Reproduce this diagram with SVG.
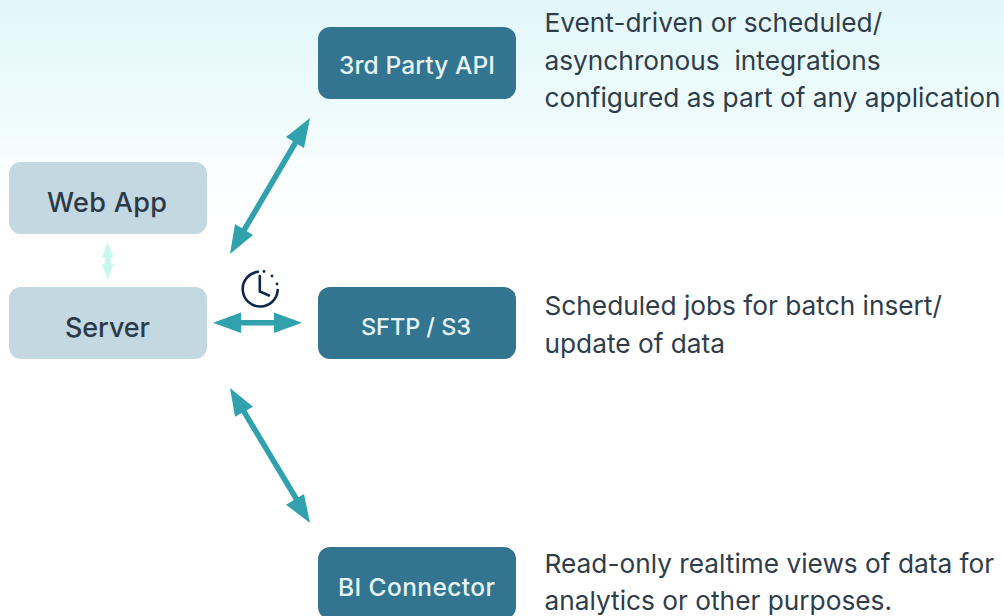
<svg xmlns="http://www.w3.org/2000/svg" width="1004" height="616" viewBox="0 0 1004 616">
<style>
.light{fill:#c4d8e1}
.dark{fill:#337590}
.lt{font-family:"Inter","Liberation Sans",sans-serif;font-size:27px;font-weight:500;fill:#2b3a48;text-anchor:middle}
.dt{font-family:"Inter","Liberation Sans",sans-serif;font-size:24.500px;font-weight:500;fill:#e6f4f7;text-anchor:middle}
.d{font-family:"Inter","Liberation Sans",sans-serif;font-size:26.250px;fill:#2f3d4a}
.a{fill:#31a2ad}
.s{stroke:#31a2ad;stroke-width:5.500;fill:none}
</style>
<defs><linearGradient id="bg" x1="0" y1="0" x2="0" y2="1"><stop offset="0" stop-color="#e2f6fa"/><stop offset="0.200" stop-color="#e8f9fa"/><stop offset="0.480" stop-color="#effbfc"/><stop offset="0.640" stop-color="#f8fdfe"/><stop offset="0.900" stop-color="#ffffff"/></linearGradient></defs>
<rect width="1004" height="616" fill="#ffffff"/>
<rect width="1004" height="250" fill="url(#bg)"/>
<g id="connectors">
<line class="s" x1="243" y1="232" x2="297" y2="140"/>
<polygon class="a" points="310,118 286,137 304,148"/>
<polygon class="a" points="230,254 235,224 253,235"/>
<line class="s" x1="240" y1="322.7" x2="275" y2="322.7"/>
<polygon class="a" points="213,322.7 241,312.5 241,333"/>
<polygon class="a" points="302,322.7 274,312.5 274,333"/>
<line class="s" x1="243" y1="410" x2="297" y2="500"/>
<polygon class="a" points="230,388 253,406.7 235,416.7"/>
<polygon class="a" points="310,523 286,504.7 304,494"/>
<g fill="#c8f7ee">
<rect x="104.700" y="255" width="6" height="10"/>
<polygon points="107.700,241.700 102,257 113.500,257"/>
<polygon points="107.700,279.500 102,264 113.500,264"/>
</g>
</g>
<g id="clock" fill="none" stroke="#0f2848" stroke-width="2.600" stroke-linecap="round">
<path d="M258 271.700A17.500 17.500 0 1 0 277.700 290"/>
<path d="M259.800 276V291.500L269 295.500"/>
<g fill="#0f2848" stroke="none"><circle cx="264" cy="271.500" r="1.400"/><circle cx="272" cy="276" r="1.400"/><circle cx="277" cy="284" r="1.400"/></g>
</g>
<g id="web-app"><rect class="light" x="9" y="162" width="198" height="72" rx="12"/><text class="lt" x="107" y="211.500" textLength="120">Web App</text></g>
<g id="server"><rect class="light" x="9" y="287" width="198" height="72" rx="12"/><text class="lt" x="107.500" y="336.500" textLength="85">Server</text></g>
<g id="api"><rect class="dark" x="318" y="27" width="198" height="72" rx="12"/><text class="dt" x="417" y="74" textLength="156">3rd Party API</text></g>
<g id="sftp"><rect class="dark" x="318" y="287" width="198" height="72" rx="12"/><text class="dt" x="416" y="334.500" style="font-size:23.500px" textLength="110">SFTP / S3</text></g>
<g id="bi"><rect class="dark" x="318" y="547" width="198" height="72" rx="12"/><text class="dt" x="416.500" y="596" textLength="157">BI Connector</text></g>
<g id="desc" class="d">
<text x="544.500" y="32">Event-driven or scheduled/</text>
<text x="544.500" y="70" xml:space="preserve">asynchronous  integrations</text>
<text x="544.500" y="107">configured as part of any application</text>
<text x="544.500" y="315">Scheduled jobs for batch insert/</text>
<text x="544.500" y="353">update of data</text>
<text x="544.500" y="573">Read-only realtime views of data for</text>
<text x="544.500" y="610">analytics or other purposes.</text>
</g>
</svg>
